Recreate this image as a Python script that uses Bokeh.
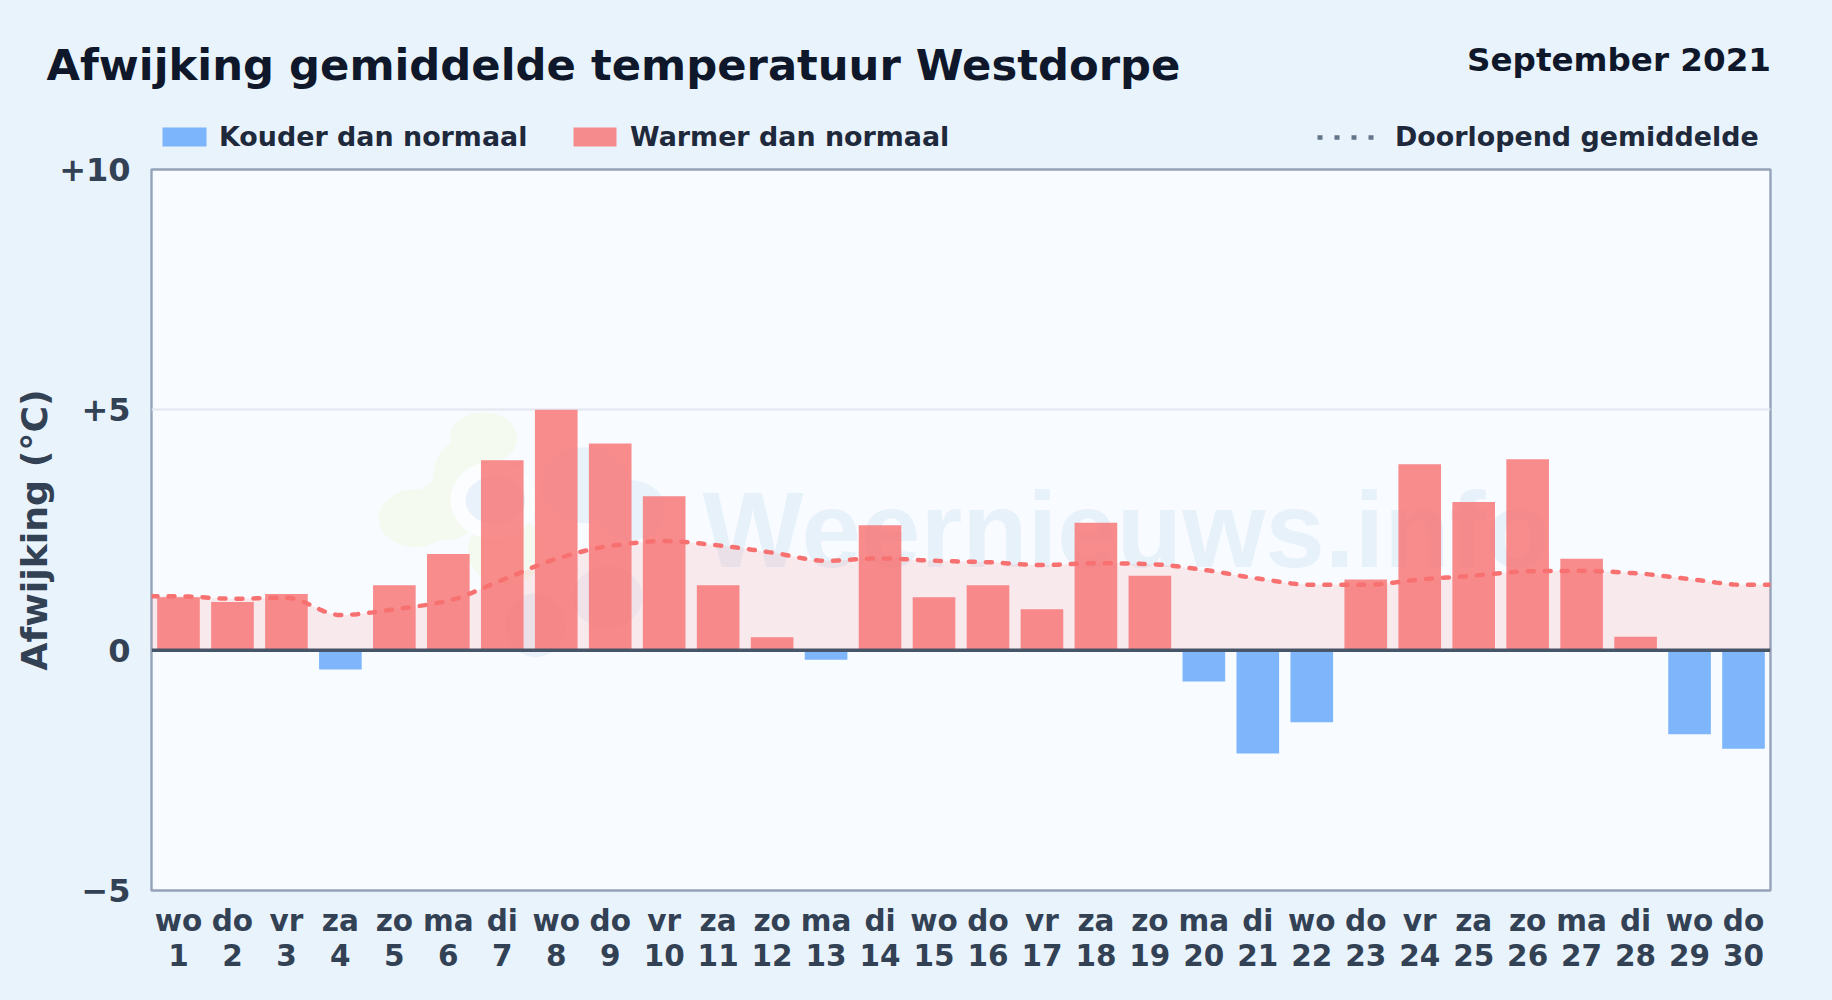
import numpy as np
from bokeh.plotting import figure
from bokeh.layouts import column
from bokeh.models import Span, FixedTicker, LinearAxis
from bokeh.embed import file_html
from bokeh.resources import INLINE
from bokeh.core.properties import value

weekdays = ["wo","do","vr","za","zo","ma","di","wo","do","vr","za","zo","ma","di","wo","do","vr","za","zo","ma","di","wo","do","vr","za","zo","ma","di","wo","do"]
days = list(range(1, 31))
deviation = [1.1,1.0,1.17,-0.4,1.35,2.0,3.95,5.0,4.3,3.2,1.35,0.27,-0.2,2.6,1.1,1.35,0.85,2.65,1.55,-0.65,-2.15,-1.5,1.47,3.87,3.08,3.97,1.9,0.28,-1.75,-2.05]
running_mean = [1.12,1.07,1.09,0.73,0.85,1.03,1.46,1.9,2.17,2.27,2.18,2.03,1.86,1.91,1.86,1.83,1.77,1.81,1.79,1.67,1.49,1.36,1.36,1.47,1.55,1.64,1.65,1.6,1.48,1.36]
y_ticks = [-5, 0, 5, 10]
y_tick_labels = ["\u22125", "0", "+5", "+10"]

PAGE = "#e9f3fc"
PLOT = "#f8fbff"
RED = "#f87171"
BLUE = "#60a5fa"
BASE = 0.33  # text baseline correction, in ems

# header: title and legend, in page pixels, laid transparently over the chart's top margin
HEAD = 160
head = figure(width=1816, height=HEAD, x_range=(0, 1816), y_range=(HEAD, 0), min_border=0,
              output_backend="svg", toolbar_location=None, tools="", frame_align=False,
              styles={"position": "absolute", "top": "0", "left": "0", "z-index": "1"})
head.axis.visible = False
head.grid.visible = False
head.outline_line_color = None
head.background_fill_color = None
head.border_fill_color = None

def label(px, py, text, size, color, align="left"):
    head.text(x=[px], y=[py - BASE * size], text=[text], text_font=value("DejaVu Sans"), text_font_style="bold",
              text_font_size=f"{size}px", text_color=color, text_align=align, text_baseline="alphabetic")
label(46, 79, "Afwijking gemiddelde temperatuur Westdorpe", 43.3, "#0f172a")
label(1770.5, 70, "September 2021", 32.6, "#0f172a", "right")
label(218.5, 145, "Kouder dan normaal", 26.9, "#1e293b")
label(629.5, 145, "Warmer dan normaal", 26.9, "#1e293b")
label(1394.5, 145, "Doorlopend gemiddelde", 26.9, "#1e293b")
head.quad(left=[162], right=[206], top=[127], bottom=[146], fill_color=BLUE, fill_alpha=0.8, line_color=None)
head.quad(left=[573], right=[616], top=[127], bottom=[146], fill_color=RED, fill_alpha=0.8, line_color=None)
head.line(x=[1317, 1374], y=[137, 137], line_color="#64748b", line_width=4.5, line_dash="5 12")

p = figure(frame_width=1619, frame_height=721, min_border_left=151, min_border_right=46,
           min_border_top=169, min_border_bottom=106, x_range=(0.5, 30.5), y_range=(-5, 10),
           output_backend="svg", toolbar_location=None, tools="", frame_align=False)
p.background_fill_color = PLOT
p.border_fill_color = PAGE
p.outline_line_color = "#94a3b8"
p.outline_line_width = 2.4

def X(px): return (px - 151) / 53.97 + 0.5
def Y(py): return (650 - py) / 48.07

# two stacked bottom axes: weekday names above day numbers
p.xaxis.ticker = FixedTicker(ticks=days)
p.xaxis.major_label_overrides = {d: w for d, w in zip(days, weekdays)}
p.xaxis.major_label_standoff = 7
num_axis = LinearAxis(ticker=FixedTicker(ticks=days), major_label_overrides={d: str(d) for d in days},
                      major_label_standoff=-3)
p.add_layout(num_axis, "below")
for ax in (p.xaxis[0], num_axis):
    ax.major_label_text_font = "DejaVu Sans"
    ax.major_label_text_font_style = "bold"
    ax.major_label_text_font_size = "29.5px"
    ax.major_label_text_color = "#334155"
p.yaxis.ticker = FixedTicker(ticks=y_ticks)
p.yaxis.major_label_overrides = dict(zip(y_ticks, y_tick_labels))
p.yaxis.major_label_text_font = "DejaVu Sans"
p.yaxis.major_label_text_font_style = "bold"
p.yaxis.major_label_text_font_size = "32px"
p.yaxis.major_label_text_color = "#334155"
p.yaxis.major_label_standoff = 15
p.yaxis.axis_label = "Afwijking (\u00b0C)"
p.yaxis.axis_label_text_font = "DejaVu Sans"
p.yaxis.axis_label_text_font_style = "bold"
p.yaxis.axis_label_text_font_size = "36.3px"
p.yaxis.axis_label_text_color = "#334155"
p.yaxis.axis_label_standoff = 0
for ax in p.axis:
    ax.axis_line_color = None
    ax.major_tick_line_color = None
    ax.minor_tick_line_color = None
p.xgrid.visible = False
p.ygrid.ticker = FixedTicker(ticks=y_ticks)
p.ygrid.grid_line_color = "#e2e8f0"
p.ygrid.grid_line_width = 2

logo = [
    (483, 438, 68, 52, "#f5faf1"), (462, 480, 60, 80, "#f5faf1"), (415, 518, 74, 58, "#f5faf1"),
    (445, 510, 70, 60, "#f5faf1"), (505, 550, 76, 70, "#f5faf1"),
    (493, 500, 86, 78, "#fbfdff"), (495, 500, 60, 48, "#e9f2fa"),
    (585, 485, 90, 76, "#e9f2fa"), (630, 510, 70, 60, "#e9f2fa"),
    (607, 597, 70, 62, "#eef3fa"), (535, 625, 60, 64, "#ebf1fa"),
]
p.ellipse(x=[X(l[0]) for l in logo], y=[Y(l[1]) for l in logo], width=[l[2] for l in logo],
          height=[l[3] for l in logo], width_units="screen", height_units="screen",
          fill_color=[l[4] for l in logo], line_color=None)
p.text(x=[X(702)], y=[Y(565 - BASE * 107)], text=["Weernieuws.info"], text_font=value("Liberation Sans"),
       text_font_style="bold", text_font_size="107px", text_color="#e7f1fa", text_baseline="alphabetic")

kx = np.array([0.5] + days + [30.5], dtype=float)
ky = np.array([running_mean[0]] + running_mean + [running_mean[-1]], dtype=float)
h = np.diff(kx)
d = np.diff(ky) / h
m = np.zeros_like(ky)
for i in range(1, len(ky) - 1):
    m[i] = 0.0 if d[i-1] * d[i] <= 0 else 2 * d[i-1] * d[i] / (d[i-1] + d[i])
xs, ys = [], []
for i in range(len(kx) - 1):
    t = np.linspace(0, 1, 16, endpoint=False)
    h00 = 2*t**3 - 3*t**2 + 1; h10 = t**3 - 2*t**2 + t
    h01 = -2*t**3 + 3*t**2; h11 = t**3 - t**2
    xs.extend(kx[i] + t*h[i])
    ys.extend(h00*ky[i] + h10*h[i]*m[i] + h01*ky[i+1] + h11*h[i]*m[i+1])
xs.append(kx[-1]); ys.append(ky[-1])
p.varea(x=xs, y1=0, y2=ys, fill_color=RED, fill_alpha=0.13)

pos = [(d_, v) for d_, v in zip(days, deviation) if v >= 0]
neg = [(d_, v) for d_, v in zip(days, deviation) if v < 0]
p.vbar(x=[a for a, _ in pos], top=[b for _, b in pos], bottom=0, width=0.79,
       fill_color=RED, fill_alpha=0.8, line_color=None)
p.vbar(x=[a for a, _ in neg], top=0, bottom=[b for _, b in neg], width=0.79,
       fill_color=BLUE, fill_alpha=0.8, line_color=None)

p.line(xs, ys, line_color=RED, line_width=4.5, line_dash="6 11", line_cap="round")
p.add_layout(Span(location=0, dimension="width", line_color="#475569", line_width=3.5, level="overlay"))

layout = column(head, p, spacing=0)
html = file_html(layout, INLINE)
html = html.replace("<body>", f'<body style="background:{PAGE}">')
open("out.html", "w").write(html)
